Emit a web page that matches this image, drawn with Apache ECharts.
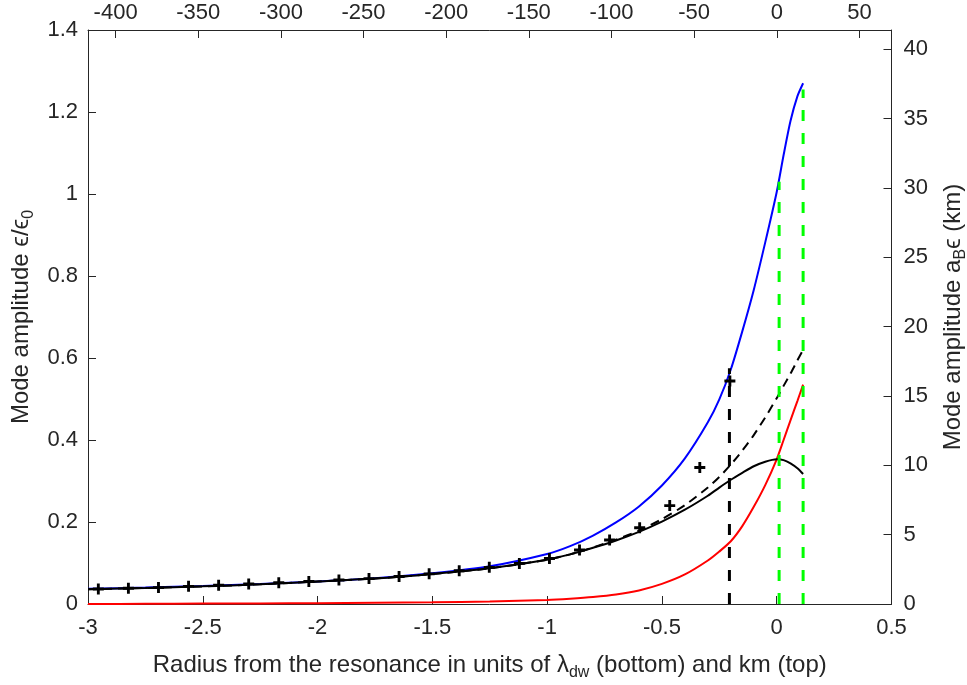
<!DOCTYPE html>
<html>
<head>
<meta charset="utf-8">
<script src="https://cdn.jsdelivr.net/npm/echarts@6/dist/echarts.min.js"></script>
<style>
html,body{margin:0;padding:0;background:#fff;}
#chart{width:967px;height:685px;}
</style>
</head>
<body>
<div id="chart"></div>
<script>
// ---- data ----
const xs = [-3, -2.75, -2.5, -2.25, -2, -1.75, -1.5, -1.25, -1, -0.9, -0.8, -0.7, -0.6, -0.5, -0.4, -0.3, -0.25, -0.2, -0.15, -0.1, -0.05, 0, 0.03, 0.06, 0.09, 0.115];
const blueVals = [0.037, 0.040, 0.044, 0.049, 0.055, 0.063, 0.075, 0.092, 0.122, 0.141, 0.167, 0.199, 0.238, 0.289, 0.355, 0.443, 0.499, 0.572, 0.665, 0.766, 0.882, 1.005, 1.095, 1.178, 1.238, 1.270];
const redVals = [0.000, 0.0005, 0.001, 0.0015, 0.002, 0.003, 0.004, 0.006, 0.010, 0.013, 0.017, 0.023, 0.033, 0.049, 0.072, 0.106, 0.128, 0.153, 0.190, 0.237, 0.290, 0.353, 0.400, 0.448, 0.495, 0.535];
const solidVals = [0.036, 0.039, 0.043, 0.048, 0.055, 0.062, 0.073, 0.087, 0.108, 0.121, 0.137, 0.155, 0.176, 0.201, 0.230, 0.264, 0.284, 0.303, 0.320, 0.336, 0.347, 0.353, 0.351, 0.343, 0.331, 0.317];
const dashedVals = [0.036, 0.039, 0.043, 0.048, 0.055, 0.062, 0.073, 0.087, 0.108, 0.121, 0.138, 0.157, 0.179, 0.207, 0.241, 0.284, 0.310, 0.340, 0.374, 0.412, 0.455, 0.502, 0.532, 0.562, 0.594, 0.620];
const markerX = [-2.955, -2.824, -2.693, -2.562, -2.431, -2.300, -2.169, -2.038, -1.907, -1.776, -1.645, -1.514, -1.383, -1.252, -1.121, -0.990, -0.859, -0.728, -0.597, -0.466, -0.335, -0.204];
const markerY = [0.0366, 0.0383, 0.0400, 0.0430, 0.0460, 0.0490, 0.0520, 0.0550, 0.0585, 0.0620, 0.0670, 0.0735, 0.0810, 0.0894, 0.0990, 0.1110, 0.1317, 0.1560, 0.1860, 0.2400, 0.3330, 0.5440];
const vlineX = [-0.206, 0.0105, 0.115];
const vlineTop = [0.575, 1.03, 1.255];
const vlineColor = ['#000000', '#00ff00', '#00ff00'];
const bottomTicks = [-3, -2.5, -2, -1.5, -1, -0.5, 0, 0.5];
const topTicks = [-400, -350, -300, -250, -200, -150, -100, -50, 0, 50];
const leftTicks = [0, 0.2, 0.4, 0.6, 0.8, 1, 1.2, 1.4];
const rightTicks = [0, 5, 10, 15, 20, 25, 30, 35, 40];
const topRange = [-416.7, 69.4];   // km equivalent of -3 .. 0.5
const rightMax = 41.4;             // right axis value at the top of the box

// ---- build ----
const zip = (a, b) => a.map((v, i) => [v, b[i]]);
const FONT = 'Liberation Sans';
const AX = '#262626';
const TICKFS = 22;
const axisCommon = {
  axisLine: {show: true, onZero: false, lineStyle: {color: AX, width: 1}},
  axisTick: {show: true, inside: true, length: 8, lineStyle: {color: AX, width: 1}},
  splitLine: {show: false},
  axisLabel: {color: AX, fontFamily: FONT, fontSize: TICKFS}
};
const nameStyle = {
  color: AX, fontFamily: FONT, fontSize: 24,
  rich: {
    sub: {fontFamily: FONT, fontSize: 16, color: AX, padding: [15, 0, 0, 0]}
  }
};

const series = [
  {type: 'line', data: zip(xs, blueVals), color: '#0000ff', lineStyle: {color: '#0000ff', width: 2}, showSymbol: false, smooth: 0.25, z: 2},
  {type: 'line', data: zip(xs, redVals), color: '#ff0000', lineStyle: {color: '#ff0000', width: 2}, showSymbol: false, smooth: 0.25, z: 2},
  {type: 'line', data: zip(xs, solidVals), lineStyle: {color: '#000000', width: 2}, showSymbol: false, smooth: 0.25, z: 3},
  {type: 'line', data: zip(xs, dashedVals), lineStyle: {color: '#000000', width: 2, type: [9, 6]}, showSymbol: false, smooth: 0.25, z: 3},
  {type: 'scatter', data: zip(markerX, markerY), symbol: 'path://M3.7,0 H6.3 V3.7 H10 V6.3 H6.3 V10 H3.7 V6.3 H0 V3.7 H3.7 Z', symbolSize: 11, itemStyle: {color: '#000000', opacity: 1}, z: 4}
];
vlineX.forEach((x, i) => {
  series.push({type: 'line', data: [[x, 0], [x, vlineTop[i]]], showSymbol: false,
    lineStyle: {color: vlineColor[i], width: 3, type: [11, 12]}, z: 5});
});

const chart = echarts.init(document.getElementById('chart'), null, {renderer: 'canvas'});
chart.setOption({
  animation: false,
  backgroundColor: '#ffffff',
  grid: {left: 88, right: 75.5, top: 30, bottom: 81, containLabel: false, outerBoundsMode: 'none'},
  xAxis: [
    Object.assign({}, axisCommon, {
      type: 'value', position: 'bottom', min: -3, max: 0.5, interval: 0.5,
      axisLabel: Object.assign({}, axisCommon.axisLabel, {margin: 13}),
      name: 'Radius from the resonance in units of λ{sub|dw} (bottom) and km (top)',
      nameLocation: 'middle', nameGap: 46, nameTextStyle: nameStyle
    }),
    Object.assign({}, axisCommon, {
      type: 'value', position: 'top', min: topRange[0], max: topRange[1],
      axisTick: Object.assign({}, axisCommon.axisTick, {customValues: topTicks}),
      axisLabel: Object.assign({}, axisCommon.axisLabel, {customValues: topTicks, margin: 6})
    })
  ],
  yAxis: [
    Object.assign({}, axisCommon, {
      type: 'value', position: 'left', min: 0, max: 1.4, interval: 0.2,
      axisLabel: Object.assign({}, axisCommon.axisLabel, {margin: 10}),
      name: 'Mode amplitude ϵ/ϵ{sub|0}', nameLocation: 'middle', nameGap: 51, nameRotate: 90,
      nameTextStyle: nameStyle
    }),
    Object.assign({}, axisCommon, {
      type: 'value', position: 'right', min: 0, max: rightMax,
      axisTick: Object.assign({}, axisCommon.axisTick, {customValues: rightTicks}),
      axisLabel: Object.assign({}, axisCommon.axisLabel, {customValues: rightTicks, margin: 12}),
      name: 'Mode amplitude a{sub|B}ϵ (km)', nameLocation: 'middle', nameGap: 46, nameRotate: 90,
      nameTextStyle: nameStyle
    })
  ],
  series: series
});
</script>
</body>
</html>
